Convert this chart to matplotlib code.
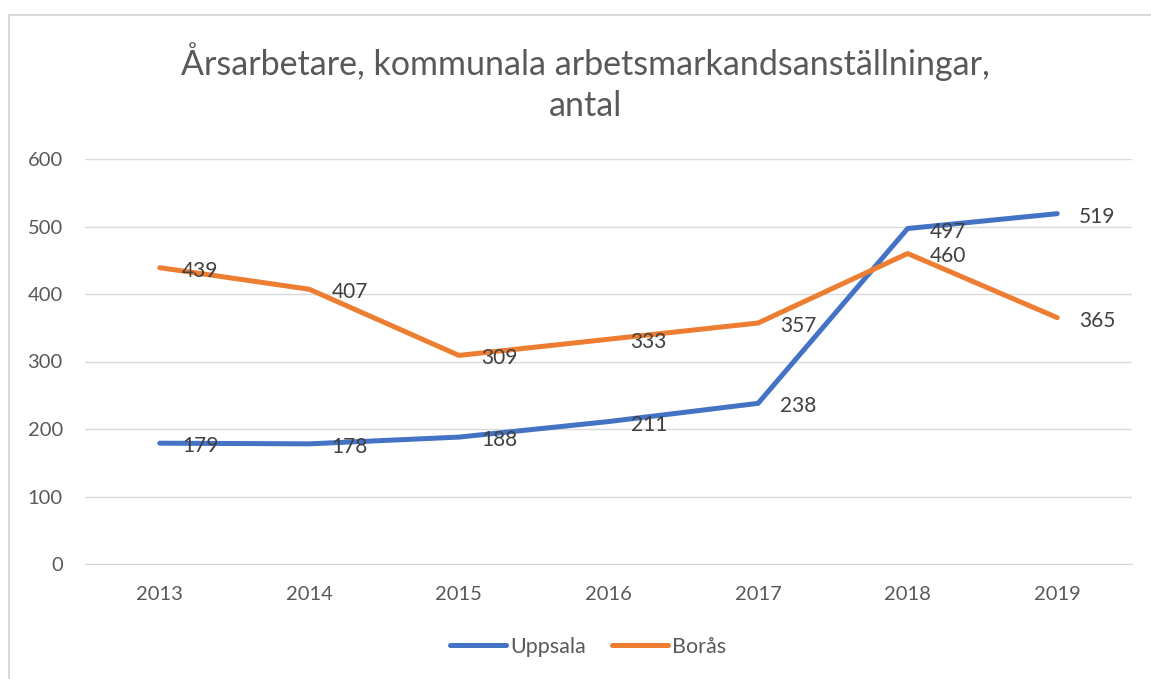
import matplotlib.pyplot as plt
from matplotlib.patches import Rectangle

years = ['2013', '2014', '2015', '2016', '2017', '2018', '2019']
uppsala = [179, 178, 188, 211, 238, 497, 519]
boras = [439, 407, 309, 333, 357, 460, 365]

BLUE = '#4472C4'
ORANGE = '#ED7D31'
GRAY = '#595959'
LABEL = '#404040'

plt.rcParams['font.family'] = ['Lato', 'DejaVu Sans']

fig = plt.figure(figsize=(11.51, 6.79), dpi=100)
ax = fig.add_axes([85 / 1151, 1 - 564 / 679, 1047 / 1151, 405 / 679])

# chart area border, runs off the right and bottom edges like the screenshot
fig.patches.append(Rectangle((9 / 1151, -0.05), 1.2, 1 - 15 / 679 + 0.05,
                             transform=fig.transFigure, fill=False,
                             edgecolor='#D9D9D9', linewidth=1.5))

x = range(len(years))
ax.plot(x, uppsala, color=BLUE, linewidth=3.6, solid_capstyle='round', label='Uppsala', zorder=3)
ax.plot(x, boras, color=ORANGE, linewidth=3.6, solid_capstyle='round', label='Borås', zorder=3)

for i, v in enumerate(uppsala):
    ax.annotate(str(v), (i, v), xytext=(22, -3), textcoords='offset pixels',
                ha='left', va='center', fontsize=15, color=LABEL, zorder=4)
for i, v in enumerate(boras):
    ax.annotate(str(v), (i, v), xytext=(22, -3), textcoords='offset pixels',
                ha='left', va='center', fontsize=15, color=LABEL, zorder=4)

ax.set_xlim(-0.5, 6.5)
ax.set_ylim(0, 600)
ax.set_yticks(range(0, 601, 100))
ax.set_xticks(list(x))
ax.set_xticklabels(years)
ax.grid(axis='y', color='#D9D9D9', linewidth=1)
ax.set_axisbelow(True)
for s in ax.spines.values():
    s.set_visible(False)
ax.spines['bottom'].set_visible(True)
ax.spines['bottom'].set_color('#D9D9D9')
ax.tick_params(length=0, labelsize=14.5, colors=GRAY)
ax.tick_params(axis='y', pad=16)
ax.tick_params(axis='x', pad=16)

fig.text(585 / 1151, 1 - 82 / 679, 'Årsarbetare, kommunala arbetsmarkandsanställningar,\nantal',
         ha='center', va='center', fontsize=24.5, color=GRAY, linespacing=1.35)

fig.legend(loc='center', bbox_to_anchor=(588 / 1151, 1 - 647 / 679), ncol=2, frameon=False,
           fontsize=15.5, handlelength=2.6, handletextpad=0.2, columnspacing=1.2,
           labelcolor=GRAY)

fig.savefig('out.png', dpi=100)
